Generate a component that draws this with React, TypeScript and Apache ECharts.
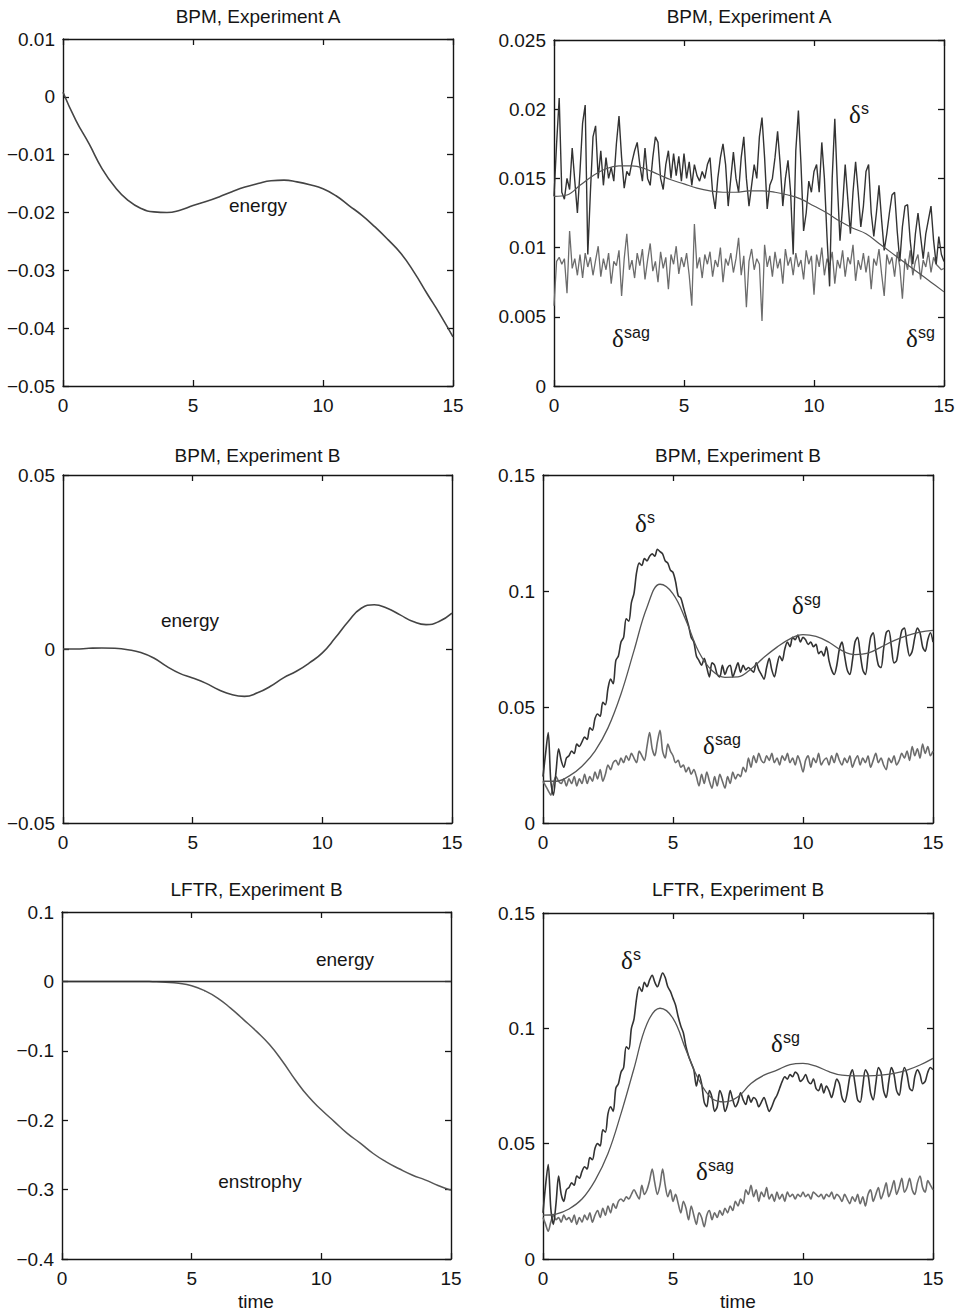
import React, { useEffect, useRef } from "react";
import * as echarts from "echarts";

// ---------- time grids ----------
const T_COARSE = Array.from({ length: 31 }, (_, i) => +(i * 0.5).toFixed(1));
const T_FINE = Array.from({ length: 151 }, (_, i) => +(i * 0.1).toFixed(1));

// ---------- Panel 1: BPM, Experiment A (energy) ----------
const energyA = [0.0008, -0.0041, -0.0081, -0.0124, -0.0156, -0.0179, -0.0193, -0.0199, -0.02, -0.0196, -0.0188,
  -0.0181, -0.0173, -0.0164, -0.0156, -0.015, -0.0145, -0.0144, -0.0147, -0.0152, -0.0159,
  -0.0171, -0.0188, -0.0205, -0.0225, -0.0247, -0.0271, -0.0303, -0.034, -0.0376, -0.0415];

// ---------- Panel 2: BPM, Experiment B (energy) ----------
const energyB = [0, 0, 0.0002, 0.0003, 0.0002, -0.0002, -0.001, -0.0026, -0.005, -0.007, -0.0083,
  -0.0098, -0.0117, -0.0131, -0.0136, -0.0126, -0.0107, -0.0083, -0.0064, -0.004, -0.0011,
  0.0032, 0.0079, 0.0117, 0.0127, 0.0117, 0.0098, 0.0079, 0.007, 0.0079, 0.0103];

// ---------- Panel 3: LFTR, Experiment B ----------
const energyL = [0, 0, 0, 0, 0, 0, 0, 0, 0, 0, 0, 0, 0, 0, 0, 0, 0, 0, 0, 0, 0, 0, 0, 0, 0, 0, 0, 0, 0, 0, 0];
const enstrophyL = [0, 0, 0, 0, 0, 0, 0, -0.0004, -0.0012, -0.0028, -0.0063,
  -0.0135, -0.024, -0.0385, -0.055, -0.072, -0.091, -0.115, -0.142, -0.166, -0.185,
  -0.202, -0.219, -0.233, -0.248, -0.26, -0.27, -0.279, -0.286, -0.294, -0.301];

// ---------- Panel 4: BPM, Experiment A (deltas) ----------
const sgA = [0.0137, 0.0138, 0.0145, 0.0152, 0.0157, 0.0159, 0.0159, 0.0157, 0.0153, 0.0149, 0.0146,
  0.0143, 0.0141, 0.014, 0.014, 0.0141, 0.0141, 0.014, 0.0138, 0.0135, 0.013,
  0.0125, 0.0119, 0.0114, 0.011, 0.0103, 0.0096, 0.0089, 0.0082, 0.0075, 0.0068];
const sA = [
  0.0137, 0.0175, 0.0208, 0.014, 0.0135, 0.015, 0.0142, 0.0172, 0.0148, 0.0125,
  0.0155, 0.019, 0.0203, 0.0095, 0.014, 0.018, 0.0188, 0.015, 0.017, 0.0145,
  0.0165, 0.015, 0.0158, 0.0148, 0.0175, 0.0195, 0.0165, 0.0143, 0.0155, 0.0152,
  0.0162, 0.017, 0.0176, 0.016, 0.0148, 0.0172, 0.015, 0.0145, 0.0165, 0.018,
  0.0176, 0.015, 0.0142, 0.016, 0.017, 0.015, 0.0168, 0.0152, 0.0166, 0.0148,
  0.0168, 0.015, 0.0162, 0.0145, 0.016, 0.0152, 0.0148, 0.0155, 0.015, 0.016,
  0.0165, 0.014, 0.0128, 0.015, 0.0165, 0.0175, 0.016, 0.013, 0.015, 0.0169,
  0.015, 0.014, 0.0165, 0.018, 0.015, 0.013, 0.0145, 0.016, 0.015, 0.018,
  0.0194, 0.0165, 0.0128, 0.0145, 0.015, 0.0165, 0.0184, 0.016, 0.013, 0.015,
  0.0163, 0.014, 0.0095, 0.017, 0.0199, 0.016, 0.0112, 0.0125, 0.0148, 0.014,
  0.0155, 0.016, 0.014, 0.0176, 0.015, 0.0108, 0.0072, 0.015, 0.0193, 0.0145,
  0.0105, 0.013, 0.016, 0.0135, 0.011, 0.014, 0.0162, 0.014, 0.0115, 0.013,
  0.0155, 0.016, 0.0125, 0.0108, 0.0125, 0.0145, 0.012, 0.0098, 0.011, 0.0125,
  0.0138, 0.014, 0.0112, 0.009, 0.0115, 0.013, 0.0131, 0.0105, 0.0088, 0.011,
  0.0125, 0.0108, 0.0092, 0.011, 0.012, 0.013, 0.0105, 0.0088, 0.0108, 0.0095,
  0.009];
const sagA = [
  0.0058, 0.009, 0.0093, 0.0088, 0.0092, 0.0067, 0.0112, 0.0085, 0.0092, 0.008,
  0.0095, 0.0078, 0.0096, 0.0086, 0.0093, 0.008, 0.0091, 0.0101, 0.0079, 0.0092,
  0.0084, 0.0096, 0.0074, 0.009, 0.0087, 0.0098, 0.0065, 0.0092, 0.011, 0.0084,
  0.0091, 0.0078, 0.0096, 0.0087, 0.0099, 0.0077, 0.0091, 0.0103, 0.0083, 0.009,
  0.0075, 0.0097, 0.0085, 0.0093, 0.007, 0.0095, 0.0088, 0.0101, 0.0081, 0.0093,
  0.0086, 0.0096, 0.008, 0.0058, 0.0117, 0.0085, 0.0093, 0.0078, 0.0095, 0.0088,
  0.0097, 0.0079, 0.0091, 0.0086, 0.01, 0.0075, 0.0092, 0.0087, 0.0096, 0.0082,
  0.0092, 0.0107, 0.008, 0.0094, 0.0057, 0.009, 0.0099, 0.0084, 0.0092, 0.0088,
  0.0047, 0.0102, 0.0086, 0.0094, 0.0079, 0.0097, 0.0085, 0.0092, 0.0074, 0.0099,
  0.0087, 0.0093, 0.008, 0.0096, 0.0086, 0.0091, 0.0077, 0.0098, 0.0088, 0.0094,
  0.0066, 0.0095, 0.0086, 0.01, 0.008, 0.0092, 0.0087, 0.0097, 0.0074, 0.0091,
  0.0085, 0.0098, 0.0079, 0.0093, 0.0088, 0.0102, 0.0076, 0.0091, 0.0084, 0.0096,
  0.0082, 0.0094, 0.007, 0.0092, 0.0087, 0.0099, 0.0081, 0.0065, 0.0095, 0.0088,
  0.0093, 0.0079, 0.0097, 0.0086, 0.0063, 0.0092, 0.0084, 0.0098, 0.008, 0.009,
  0.0095, 0.0077, 0.0091, 0.0086, 0.0097, 0.0082, 0.0093, 0.0088, 0.0086, 0.0084,
  0.0085];

// ---------- Panel 5: BPM, Experiment B (deltas) ----------
const sgB = [0.018, 0.018, 0.0202, 0.0245, 0.031, 0.041, 0.0556, 0.0743, 0.093, 0.1029, 0.0988,
  0.0873, 0.0736, 0.0657, 0.0628, 0.063, 0.0664, 0.0714, 0.0758, 0.0794, 0.0812,
  0.0804, 0.0779, 0.0743, 0.0726, 0.0732, 0.0758, 0.0786, 0.0808, 0.0823, 0.083];
const sB = [
  0.02, 0.03, 0.039, 0.018, 0.012, 0.022, 0.032, 0.027, 0.024, 0.028,
  0.029, 0.031, 0.03, 0.034, 0.033, 0.035, 0.037, 0.036, 0.041, 0.04,
  0.045, 0.047, 0.046, 0.052, 0.051, 0.058, 0.062, 0.06, 0.07, 0.072,
  0.078, 0.08, 0.088, 0.087, 0.095, 0.099, 0.108, 0.112, 0.111, 0.114,
  0.113, 0.115, 0.116, 0.115, 0.118, 0.117, 0.116, 0.113, 0.112, 0.109,
  0.108, 0.104, 0.098, 0.097, 0.093, 0.089, 0.085, 0.08, 0.078, 0.072,
  0.07, 0.068, 0.071, 0.067, 0.063, 0.069, 0.068, 0.064, 0.063, 0.068,
  0.064, 0.067, 0.068, 0.063, 0.066, 0.069, 0.065, 0.068, 0.066, 0.067,
  0.066, 0.065, 0.069, 0.066, 0.064, 0.062, 0.067, 0.071, 0.066, 0.063,
  0.068, 0.072, 0.07, 0.075, 0.078, 0.076, 0.08, 0.079, 0.081, 0.078,
  0.08, 0.079, 0.077, 0.078, 0.076, 0.077, 0.073, 0.074, 0.072, 0.076,
  0.07, 0.066, 0.064, 0.068, 0.075, 0.078, 0.072, 0.066, 0.064, 0.07,
  0.078, 0.08, 0.073, 0.066, 0.064, 0.072, 0.08, 0.082, 0.074, 0.068,
  0.067, 0.075, 0.082, 0.083, 0.076, 0.069, 0.07, 0.077, 0.083, 0.084,
  0.077, 0.072, 0.074, 0.08, 0.084, 0.082, 0.076, 0.074, 0.079, 0.082,
  0.078];
const sagB = [
  0.018, 0.016, 0.014, 0.012, 0.017, 0.02, 0.018, 0.017, 0.019, 0.016,
  0.019, 0.017, 0.02, 0.016, 0.019, 0.017, 0.021, 0.017, 0.02, 0.018,
  0.022, 0.019, 0.023, 0.018, 0.021, 0.025, 0.023, 0.026, 0.027, 0.025,
  0.028, 0.026, 0.029, 0.027, 0.03, 0.028, 0.026, 0.031, 0.029, 0.027,
  0.033, 0.039, 0.032, 0.029, 0.035, 0.04, 0.031, 0.028, 0.034, 0.031,
  0.029, 0.026, 0.027, 0.024, 0.025, 0.022, 0.024, 0.021, 0.023, 0.02,
  0.016, 0.021, 0.017, 0.022, 0.018, 0.015, 0.02, 0.016, 0.021, 0.018,
  0.015, 0.02, 0.017, 0.022, 0.019, 0.021, 0.02, 0.024, 0.022, 0.028,
  0.024, 0.029, 0.026, 0.03, 0.027, 0.026, 0.029, 0.027, 0.03, 0.026,
  0.028, 0.025, 0.029, 0.027, 0.03, 0.026, 0.028, 0.025, 0.029, 0.026,
  0.022, 0.027, 0.029, 0.024, 0.028, 0.026, 0.03, 0.025, 0.027, 0.028,
  0.025, 0.029, 0.026, 0.03, 0.027, 0.025, 0.028, 0.026, 0.029, 0.024,
  0.027, 0.029, 0.025, 0.028, 0.026, 0.029, 0.024, 0.027, 0.03, 0.026,
  0.028, 0.025, 0.023, 0.028, 0.026, 0.029, 0.025, 0.027, 0.03, 0.028,
  0.031, 0.027, 0.033, 0.029, 0.032, 0.028, 0.034, 0.03, 0.033, 0.029,
  0.031];

// ---------- Panel 6: LFTR, Experiment B (deltas) ----------
const sgL = [0.019, 0.0195, 0.0217, 0.026, 0.034, 0.0457, 0.063, 0.0826, 0.102, 0.1087, 0.1043,
  0.0906, 0.0775, 0.0696, 0.0681, 0.0703, 0.0761, 0.0797, 0.0819, 0.0843, 0.0848,
  0.0836, 0.0812, 0.0797, 0.0794, 0.0794, 0.0797, 0.0805, 0.0819, 0.0841, 0.087];
const sL = [
  0.02, 0.032, 0.041, 0.022, 0.015, 0.024, 0.036, 0.028, 0.025, 0.03,
  0.031, 0.033, 0.032, 0.036, 0.035, 0.038, 0.04, 0.039, 0.044, 0.043,
  0.048, 0.05, 0.049, 0.056, 0.055, 0.063, 0.066, 0.064, 0.074, 0.076,
  0.081, 0.083, 0.092, 0.091, 0.1, 0.104, 0.113, 0.118, 0.116, 0.12,
  0.118, 0.121, 0.123, 0.12, 0.118, 0.121, 0.124, 0.122, 0.118, 0.116,
  0.113, 0.11, 0.105, 0.101, 0.098, 0.092, 0.088, 0.085, 0.082, 0.075,
  0.08, 0.076, 0.068, 0.066, 0.073, 0.07, 0.064, 0.066, 0.073, 0.07,
  0.064, 0.067, 0.073, 0.069, 0.066, 0.068, 0.072, 0.069, 0.067, 0.071,
  0.068, 0.07, 0.069, 0.066, 0.068, 0.07, 0.067, 0.064, 0.066, 0.069,
  0.071, 0.074, 0.077, 0.079, 0.078, 0.08, 0.079, 0.081, 0.08, 0.077,
  0.078, 0.08, 0.077, 0.076, 0.078, 0.074, 0.073, 0.076, 0.072, 0.075,
  0.073, 0.07, 0.074, 0.078, 0.076, 0.07, 0.068, 0.072, 0.079, 0.082,
  0.076, 0.069, 0.068, 0.075, 0.082, 0.08, 0.072, 0.069, 0.076, 0.083,
  0.081, 0.073, 0.07, 0.077, 0.083, 0.08, 0.073, 0.071, 0.078, 0.083,
  0.08, 0.074, 0.073, 0.079, 0.082, 0.08, 0.076, 0.077, 0.081, 0.083,
  0.082];
const sagL = [
  0.018, 0.015, 0.012, 0.016, 0.019, 0.017, 0.018, 0.016, 0.019, 0.017,
  0.018, 0.016, 0.019, 0.015, 0.018, 0.016, 0.019, 0.017, 0.02, 0.016,
  0.019, 0.021, 0.018, 0.022, 0.019, 0.023, 0.02, 0.024, 0.022, 0.025,
  0.026, 0.025, 0.027, 0.026, 0.028, 0.03, 0.028, 0.026, 0.032, 0.028,
  0.03, 0.034, 0.039, 0.033, 0.028, 0.032, 0.039, 0.032, 0.027, 0.03,
  0.025, 0.028, 0.024, 0.02, 0.025, 0.022, 0.017, 0.023, 0.019, 0.015,
  0.02, 0.018, 0.014, 0.019, 0.021, 0.017, 0.02, 0.018, 0.021, 0.019,
  0.022, 0.02, 0.023, 0.021, 0.025, 0.023, 0.026, 0.024, 0.03, 0.028,
  0.032, 0.027, 0.03, 0.025, 0.029, 0.027, 0.031, 0.026, 0.028, 0.025,
  0.029, 0.026, 0.028, 0.025, 0.029, 0.027, 0.028, 0.026, 0.028, 0.027,
  0.029, 0.027, 0.028, 0.026, 0.029, 0.028, 0.027, 0.028, 0.026, 0.028,
  0.027, 0.029, 0.026, 0.028, 0.027, 0.025, 0.028, 0.026, 0.024, 0.027,
  0.025, 0.028, 0.024, 0.027, 0.023, 0.028, 0.03, 0.025, 0.028, 0.031,
  0.026, 0.029, 0.033, 0.027, 0.03, 0.034, 0.028, 0.031, 0.035, 0.029,
  0.031, 0.035, 0.03, 0.028, 0.033, 0.036, 0.031, 0.029, 0.034, 0.032,
  0.03];

const TITLES = ["BPM, Experiment A", "BPM, Experiment A", "BPM, Experiment B", "BPM, Experiment B", "LFTR, Experiment B", "LFTR, Experiment B"];
const X_TICKS = { min: 0, max: 15, interval: 5 };
const Y_AXES = [
  { min: -0.05, max: 0.01, interval: 0.01 },
  { min: 0, max: 0.025, interval: 0.005 },
  { min: -0.05, max: 0.05, interval: 0.05 },
  { min: 0, max: 0.15, interval: 0.05 },
  { min: -0.4, max: 0.1, interval: 0.1 },
  { min: 0, max: 0.15, interval: 0.05 },
];

const FONT = "'Liberation Sans', Arial, Helvetica, sans-serif";
const SERIF = "'Liberation Serif', 'Times New Roman', serif";
const INK = "#151515";

const pair = (ts: number[], vs: number[]) => ts.map((t, i) => [t, vs[i]]);

export default function App() {
  const ref = useRef<HTMLDivElement>(null);
  useEffect(() => {
    if (!ref.current) return;
    const chart = echarts.init(ref.current, null, { renderer: "svg" });

    const grids = [
      { left: 63, top: 39, width: 390, height: 347 },
      { left: 554, top: 40, width: 390, height: 346 },
      { left: 63, top: 475, width: 389, height: 348 },
      { left: 543, top: 475, width: 390, height: 348 },
      { left: 62, top: 912, width: 389, height: 347 },
      { left: 543, top: 913, width: 390, height: 346 },
    ];

    const axisLine = { show: true, onZero: false, lineStyle: { color: INK, width: 1.4 } };
    const axisTick = { show: true, inside: true, length: 6, lineStyle: { color: INK, width: 1.3 } };
    const fmt = (v: number) => String(+v.toFixed(4)).replace("-", "\u2212");

    const xAxis: any[] = [];
    const yAxis: any[] = [];
    grids.forEach((_, i) => {
      xAxis.push({
        type: "value", gridIndex: i, position: "bottom", ...X_TICKS,
        axisLine, axisTick, splitLine: { show: false },
        axisLabel: { fontSize: 19, color: INK, fontFamily: FONT, margin: 10, formatter: fmt },
      });
      xAxis.push({
        type: "value", gridIndex: i, position: "top", ...X_TICKS,
        axisLine, axisTick, splitLine: { show: false }, axisLabel: { show: false },
      });
      yAxis.push({
        type: "value", gridIndex: i, position: "left", ...Y_AXES[i],
        axisLine, axisTick, splitLine: { show: false },
        axisLabel: { fontSize: 19, color: INK, fontFamily: FONT, margin: 8, formatter: fmt },
      });
      yAxis.push({
        type: "value", gridIndex: i, position: "right", ...Y_AXES[i],
        axisLine, axisTick, splitLine: { show: false }, axisLabel: { show: false },
      });
    });

    const line = (i: number, data: number[][], color: string, width: number, smooth: number | boolean) => ({
      type: "line", xAxisIndex: 2 * i, yAxisIndex: 2 * i, data,
      showSymbol: false, symbol: "none", smooth, silent: true,
      lineStyle: { color, width },
    });

    const series = [
      line(0, pair(T_COARSE, energyA), "#444", 1.6, 0.5),
      line(1, pair(T_FINE, sagA), "#6c6c6c", 1.3, false),
      line(1, pair(T_FINE, sA), "#333", 1.4, false),
      line(1, pair(T_COARSE, sgA), "#555", 1.2, 0.4),
      line(2, pair(T_COARSE, energyB), "#444", 1.6, 0.5),
      line(3, pair(T_FINE, sagB), "#6c6c6c", 1.6, 0.3),
      line(3, pair(T_FINE, sB), "#333", 1.6, 0.3),
      line(3, pair(T_COARSE, sgB), "#555", 1.3, 0.4),
      line(4, pair(T_COARSE, enstrophyL), "#555", 1.5, 0.5),
      line(4, pair(T_COARSE, energyL), "#333", 1.5, false),
      line(5, pair(T_FINE, sagL), "#6c6c6c", 1.6, 0.3),
      line(5, pair(T_FINE, sL), "#333", 1.6, 0.3),
      line(5, pair(T_COARSE, sgL), "#555", 1.3, 0.4),
    ];

    const txt = (x: number, y: number, text: string, size = 19, align = "center", family = FONT) => ({
      type: "text", x, y, silent: true,
      style: { text, fontSize: size, fontFamily: family, fill: INK, align, verticalAlign: "middle" },
    });
    const delta = (x: number, y: number, sup: string) => ({
      type: "group", silent: true,
      children: [
        txt(x, y, "\u03b4", 25, "left", SERIF),
        txt(x + 12, y - 6, sup, 16, "left", FONT),
      ],
    });

    const graphic = [
      ...grids.map((g, i) => txt(g.left + g.width / 2, [16, 16, 455, 455, 889, 889][i], TITLES[i])),
      txt(258, 205, "energy"),
      txt(190, 620, "energy"),
      txt(345, 959, "energy"),
      txt(260, 1181, "enstrophy"),
      txt(256, 1301, "time"),
      txt(738, 1301, "time"),
      delta(849, 114, "s"),
      delta(612, 338, "sag"),
      delta(906, 338, "sg"),
      delta(635, 523, "s"),
      delta(792, 605, "sg"),
      delta(703, 745, "sag"),
      delta(621, 960, "s"),
      delta(771, 1043, "sg"),
      delta(696, 1171, "sag"),
    ];

    chart.setOption({
      animation: false,
      backgroundColor: "#fff",
      grid: grids.map((g) => ({ ...g, containLabel: false })),
      xAxis, yAxis, series, graphic,
    });
    return () => chart.dispose();
  }, []);
  return <div ref={ref} style={{ position: "absolute", left: 0, top: 0, width: 965, height: 1313 }} />;
}
